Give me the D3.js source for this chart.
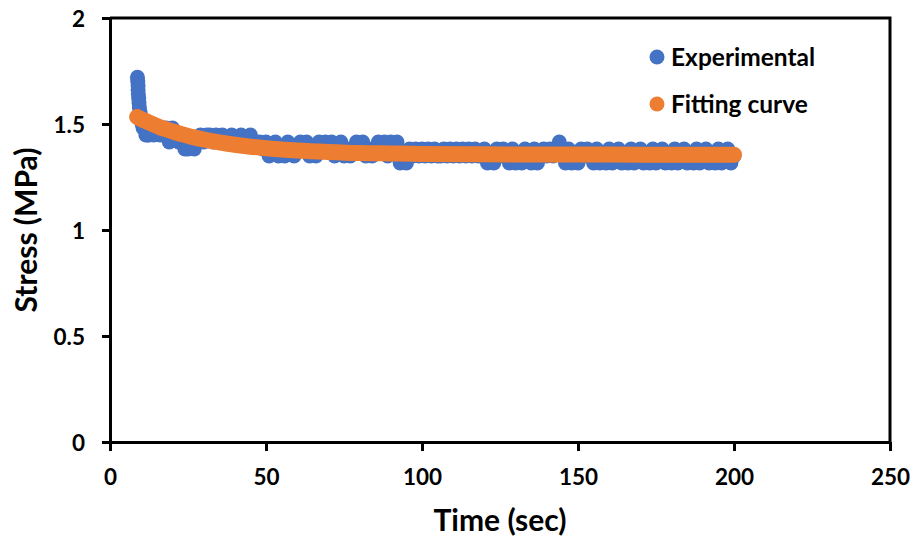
<!DOCTYPE html>
<html>
<head>
<meta charset="utf-8">
<script src="https://cdn.jsdelivr.net/npm/d3@7"></script>
<style>
  body { margin: 0; background: #fff; }
  svg { display: block; font-family: Lato, "Open Sans", sans-serif; font-weight: bold; }
</style>
</head>
<body>
<svg id="canvas"></svg>
<script>
let width = 914;
let height = 540;

// tick labels
let xTicks = [0, 50, 100, 150, 200, 250];
let yTicks = [0, 0.5, 1, 1.5, 2];
let yTickLabels = ["0", "0.5", "1", "1.5", "2"];

// experimental points (time in sec, stress in MPa)
let expTime = [
  8.8, 8.9, 9.0, 9.0, 9.1, 9.2, 9.3, 9.4, 9.6, 9.8, 10.0, 10.3, 10.6, 11.0, 11.5, 12.0, 12.5,
  13, 14, 15, 16, 17, 18, 19, 20, 21, 22, 23, 24, 25, 26, 27, 28,
  29, 30, 31, 32, 33, 34, 35, 36, 37, 38, 39, 40,
  41, 42, 43, 44, 45, 46, 47, 48, 49, 50,
  51, 52, 53, 54, 55, 56, 57, 58, 59, 60,
  61, 62, 63, 64, 65, 66, 67, 68, 69, 70,
  71, 72, 73, 74, 75, 76, 77, 78, 79, 80,
  81, 82, 83, 84, 85, 86, 87, 88, 89, 90,
  91, 92, 93, 94, 95, 96, 97, 98, 99, 100,
  101, 102, 103, 104, 105, 106, 107, 108, 109, 110,
  111, 112, 113, 114, 115, 116, 117, 118, 119, 120,
  121, 122, 123, 124, 125, 126, 127, 128, 129, 130,
  131, 132, 133, 134, 135, 136, 137, 138, 139, 140,
  141, 142, 143, 144, 145, 146, 147, 148, 149, 150,
  151, 152, 153, 154, 155, 156, 157, 158, 159, 160,
  161, 162, 163, 164, 165, 166, 167, 168, 169, 170,
  171, 172, 173, 174, 175, 176, 177, 178, 179, 180,
  181, 182, 183, 184, 185, 186, 187, 188, 189, 190,
  191, 192, 193, 194, 195, 196, 197, 198, 199, 200
];
let expStress = [
  1.72, 1.70, 1.68, 1.66, 1.64, 1.62, 1.60, 1.58, 1.56, 1.54, 1.52, 1.50, 1.481, 1.481, 1.448, 1.448, 1.448,
  1.481, 1.448, 1.481, 1.448, 1.448, 1.481, 1.415, 1.481, 1.448, 1.415, 1.448, 1.382, 1.382, 1.415, 1.382, 1.415,
  1.448, 1.415, 1.448, 1.448, 1.415, 1.448, 1.415, 1.448, 1.415, 1.415, 1.448, 1.415,
  1.415, 1.448, 1.415, 1.415, 1.448, 1.415, 1.415, 1.415, 1.382, 1.415,
  1.349, 1.382, 1.415, 1.349, 1.382, 1.349, 1.415, 1.382, 1.349, 1.382,
  1.415, 1.382, 1.415, 1.349, 1.382, 1.349, 1.415, 1.382, 1.415, 1.382,
  1.415, 1.349, 1.382, 1.415, 1.349, 1.382, 1.349, 1.382, 1.415, 1.382,
  1.415, 1.349, 1.382, 1.349, 1.382, 1.415, 1.382, 1.415, 1.349, 1.415,
  1.382, 1.415, 1.316, 1.349, 1.316, 1.382, 1.349, 1.382, 1.349, 1.382,
  1.349, 1.382, 1.349, 1.382, 1.349, 1.349, 1.382, 1.349, 1.382, 1.349,
  1.382, 1.349, 1.382, 1.349, 1.382, 1.349, 1.382, 1.349, 1.349, 1.382,
  1.316, 1.349, 1.316, 1.382, 1.349, 1.382, 1.349, 1.316, 1.382, 1.316,
  1.349, 1.316, 1.382, 1.349, 1.316, 1.382, 1.316, 1.349, 1.382, 1.349,
  1.382, 1.349, 1.382, 1.415, 1.349, 1.316, 1.382, 1.316, 1.349, 1.316,
  1.382, 1.349, 1.382, 1.349, 1.316, 1.382, 1.316, 1.349, 1.316, 1.382,
  1.316, 1.349, 1.382, 1.316, 1.349, 1.316, 1.382, 1.316, 1.349, 1.382,
  1.316, 1.349, 1.316, 1.382, 1.316, 1.349, 1.382, 1.316, 1.349, 1.316,
  1.382, 1.316, 1.349, 1.382, 1.316, 1.349, 1.316, 1.382, 1.316, 1.349,
  1.382, 1.316, 1.349, 1.316, 1.382, 1.316, 1.349, 1.382, 1.316, 1.349
];

// fitting curve
let fitTime = [8.7, 10, 12, 14, 16, 18, 20, 23, 26, 30, 35, 40, 45, 50, 55, 60, 70, 80, 90, 100, 120, 140, 160, 180, 200];
let fitStress = [1.533, 1.523, 1.510, 1.497, 1.485, 1.475, 1.465, 1.452, 1.440, 1.427, 1.413, 1.402, 1.393, 1.386, 1.380, 1.375, 1.368, 1.363, 1.361, 1.359, 1.357, 1.356, 1.356, 1.355, 1.355];

let seriesNames = ["Experimental", "Fitting curve"];
let seriesColors = ["#4472C4", "#ED7D31"];

let canvas = d3.select("#canvas")
  .attr("width", width)
  .attr("height", height);

let xScale = d3.scaleLinear().domain([0, 250]).range([110, 890]);
let yScale = d3.scaleLinear().domain([0, 2]).range([442, 18]);

// frame (top and right)
canvas.append("path")
  .attr("d", "M" + xScale(0) + "," + yScale(2) + "H" + xScale(250) + "V" + yScale(0))
  .attr("fill", "none")
  .attr("stroke", "#000")
  .attr("stroke-width", 3);

// axes
let xAxis = d3.axisBottom(xScale)
  .tickValues(xTicks)
  .tickSize(9)
  .tickSizeOuter(0)
  .tickPadding(18)
  .tickFormat(d3.format("d"));

let yAxis = d3.axisLeft(yScale)
  .tickValues(yTicks)
  .tickSize(8)
  .tickSizeOuter(0)
  .tickPadding(17)
  .tickFormat((d, i) => yTickLabels[i]);

let gx = canvas.append("g")
  .attr("transform", "translate(0," + yScale(0) + ")")
  .call(xAxis);

let gy = canvas.append("g")
  .attr("transform", "translate(" + xScale(0) + ",0)")
  .call(yAxis);

[gx, gy].forEach(g => {
  g.select(".domain").attr("stroke", "#000").attr("stroke-width", 3);
  g.selectAll(".tick line").attr("stroke", "#000").attr("stroke-width", 3);
  g.selectAll(".tick text")
    .attr("fill", "#000")
    .style("font-family", "Lato, sans-serif")
    .style("font-weight", "bold")
    .style("font-size", "22.5px");
});
gy.selectAll(".tick text").attr("dy", "0.36em");

// experimental dots
canvas.append("g")
  .selectAll("circle")
  .data(expTime)
  .enter()
  .append("circle")
  .attr("cx", (d) => xScale(d))
  .attr("cy", (d, i) => yScale(expStress[i]))
  .attr("r", 7.5)
  .attr("fill", seriesColors[0]);

// fitting curve
let fitLine = d3.line()
  .x((d) => xScale(d))
  .y((d, i) => yScale(fitStress[i]))
  .curve(d3.curveMonotoneX);

canvas.append("path")
  .attr("d", fitLine(fitTime))
  .attr("fill", "none")
  .attr("stroke", seriesColors[1])
  .attr("stroke-width", 16)
  .attr("stroke-linecap", "round")
  .attr("stroke-linejoin", "round");

// axis titles
canvas.append("text")
  .attr("x", (xScale(0) + xScale(250)) / 2)
  .attr("y", 531)
  .attr("text-anchor", "middle")
  .style("font-size", "30px")
  .text("Time (sec)");

canvas.append("text")
  .attr("transform", "translate(37," + (yScale(0) + yScale(2)) / 2 + ") rotate(-90)")
  .attr("text-anchor", "middle")
  .style("font-size", "30px")
  .text("Stress (MPa)");

// legend
let legend = canvas.append("g")
  .selectAll("g")
  .data(seriesNames)
  .enter()
  .append("g")
  .attr("transform", (d, i) => "translate(657," + (57 + i * 47) + ")");

legend.append("circle")
  .attr("r", 7.5)
  .attr("fill", (d, i) => seriesColors[i]);

legend.append("text")
  .attr("x", 14)
  .attr("dy", "0.36em")
  .style("font-size", "24.5px")
  .text((d) => d);
</script>
</body>
</html>
